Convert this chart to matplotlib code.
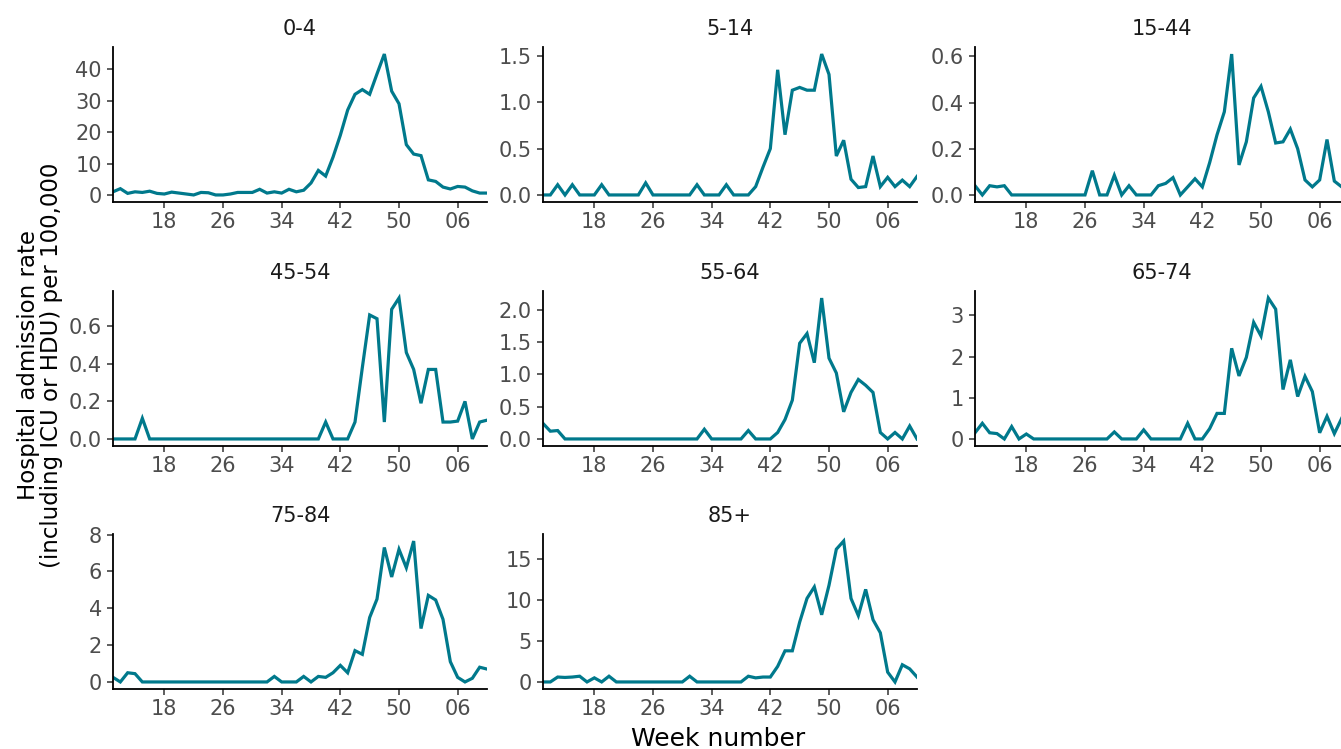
import matplotlib
matplotlib.use('Agg')
import matplotlib.pyplot as plt

# weeks 11..52 then 01..10 of the following year (plotted as 53..62)
weeks = list(range(11, 63))

groups = ['0-4', '5-14', '15-44', '45-54', '55-64', '65-74', '75-84', '85+']

rate_0_4 = [1.0, 2.0, 0.5, 1.0, 0.8, 1.2, 0.5, 0.3, 0.9, 0.6,
            0.3, 0.0, 0.8, 0.7, 0.0, 0.0, 0.3, 0.8, 0.8, 0.8,
            1.8, 0.6, 1.0, 0.6, 1.8, 1.0, 1.5, 3.8, 7.8, 6.0,
            12.0, 19.0, 27.0, 32.0, 33.5, 32.0, 38.5, 44.8, 33.0, 29.0,
            16.0, 13.0, 12.5, 4.8, 4.3, 2.5, 1.9, 2.7, 2.5, 1.3,
            0.6, 0.6]
rate_5_14 = [0, 0, 0.11, 0, 0.11, 0, 0, 0, 0.11, 0,
             0, 0, 0, 0, 0.13, 0, 0, 0, 0, 0,
             0, 0.11, 0, 0, 0, 0.11, 0, 0, 0, 0.09,
             0.3, 0.5, 1.35, 0.65, 1.13, 1.16, 1.13, 1.13, 1.52, 1.3,
             0.42, 0.59, 0.17, 0.08, 0.09, 0.42, 0.09, 0.19, 0.09, 0.16,
             0.09, 0.2]
rate_15_44 = [0.04, 0, 0.04, 0.035, 0.04, 0, 0, 0, 0, 0,
              0, 0, 0, 0, 0, 0, 0.105, 0, 0, 0.085,
              0, 0.04, 0, 0, 0, 0.04, 0.05, 0.075, 0, 0.035,
              0.07, 0.035, 0.14, 0.26, 0.36, 0.61, 0.13, 0.23, 0.42, 0.47,
              0.36, 0.225, 0.23, 0.285, 0.2, 0.065, 0.035, 0.065, 0.24, 0.06,
              0.035, 0.05]
rate_45_54 = [0, 0, 0, 0, 0.11, 0, 0, 0, 0, 0,
              0, 0, 0, 0, 0, 0, 0, 0, 0, 0,
              0, 0, 0, 0, 0, 0, 0, 0, 0, 0.09,
              0, 0, 0, 0.09, 0.38, 0.66, 0.64, 0.09, 0.69, 0.75,
              0.46, 0.37, 0.19, 0.37, 0.37, 0.09, 0.09, 0.095, 0.2, 0,
              0.09, 0.1]
rate_55_64 = [0.24, 0.12, 0.13, 0, 0, 0, 0, 0, 0, 0,
              0, 0, 0, 0, 0, 0, 0, 0, 0, 0,
              0, 0, 0.15, 0, 0, 0, 0, 0, 0.13, 0,
              0, 0, 0.1, 0.3, 0.6, 1.48, 1.63, 1.18, 2.18, 1.25,
              1.02, 0.42, 0.72, 0.92, 0.83, 0.72, 0.1, 0, 0.1, 0,
              0.2, 0]
rate_65_74 = [0.15, 0.38, 0.15, 0.13, 0, 0.3, 0, 0.12, 0, 0,
              0, 0, 0, 0, 0, 0, 0, 0, 0, 0.17,
              0, 0, 0, 0.22, 0, 0, 0, 0, 0, 0.38,
              0, 0, 0.25, 0.62, 0.62, 2.2, 1.53, 1.98, 2.83, 2.5,
              3.42, 3.15, 1.2, 1.92, 1.03, 1.52, 1.15, 0.15, 0.55, 0.13,
              0.5, 0.3]
rate_75_84 = [0.25, 0, 0.5, 0.45, 0, 0, 0, 0, 0, 0,
              0, 0, 0, 0, 0, 0, 0, 0, 0, 0,
              0, 0, 0.3, 0, 0, 0, 0.3, 0, 0.3, 0.25,
              0.5, 0.9, 0.5, 1.7, 1.5, 3.5, 4.5, 7.3, 5.7, 7.2,
              6.2, 7.65, 2.9, 4.7, 4.45, 3.4, 1.1, 0.25, 0, 0.2,
              0.8, 0.7]
rate_85 = [0, 0, 0.6, 0.55, 0.6, 0.7, 0, 0.5, 0, 0.7,
           0, 0, 0, 0, 0, 0, 0, 0, 0, 0,
           0.7, 0, 0, 0, 0, 0, 0, 0, 0.7, 0.5,
           0.6, 0.6, 1.9, 3.8, 3.8, 7.3, 10.2, 11.6, 8.2, 11.8,
           16.2, 17.2, 10.2, 8.1, 11.3, 7.6, 6.0, 1.2, 0, 2.1,
           1.6, 0.6]

series = [rate_0_4, rate_5_14, rate_15_44, rate_45_54,
          rate_55_64, rate_65_74, rate_75_84, rate_85]

yticks = [[0, 10, 20, 30, 40],
          [0.0, 0.5, 1.0, 1.5],
          [0.0, 0.2, 0.4, 0.6],
          [0.0, 0.2, 0.4, 0.6],
          [0.0, 0.5, 1.0, 1.5, 2.0],
          [0, 1, 2, 3],
          [0, 2, 4, 6, 8],
          [0, 5, 10, 15]]
ytick_fmt = ['{:.0f}', '{:.1f}', '{:.1f}', '{:.1f}', '{:.1f}', '{:.0f}', '{:.0f}', '{:.0f}']

xticks = [18, 26, 34, 42, 50, 58]
xtick_labels = ['18', '26', '34', '42', '50', '06']

W, H = 1341, 749
line_col = '#00798C'

fig = plt.figure(figsize=(W / 100, H / 100), dpi=100)

col_left = [113, 543, 975]
row_bottom = [202, 446, 689]
pw, ph = 374, 155

for i, (name, vals) in enumerate(zip(groups, series)):
    r, c = divmod(i, 3)
    ax = fig.add_axes([col_left[c] / W, 1 - row_bottom[r] / H, pw / W, ph / H])
    ax.plot(weeks, vals, color=line_col, lw=2.3, solid_joinstyle='miter')
    ax.set_xlim(weeks[0], weeks[-1])
    lo, hi = min(vals), max(vals)
    pad = 0.05 * (hi - lo)
    ax.set_ylim(lo - pad, hi + pad)
    ax.set_xticks(xticks)
    ax.set_xticklabels(xtick_labels)
    ax.set_yticks(yticks[i])
    ax.set_yticklabels([ytick_fmt[i].format(v) for v in yticks[i]])
    for s in ['top', 'right']:
        ax.spines[s].set_visible(False)
    for s in ['left', 'bottom']:
        ax.spines[s].set_linewidth(1.3)
        ax.spines[s].set_color('black')
    ax.tick_params(axis='both', length=4.5, width=1.1, color='#333333',
                   labelsize=15, labelcolor='#4D4D4D')
    ax.tick_params(axis='x', pad=3)
    ax.tick_params(axis='y', pad=3.5)
    ax.set_title(name, fontsize=15, color='#1A1A1A', pad=8.5)

fig.text(40 / W, 1 - 365 / H,
         'Hospital admission rate\n(including ICU or HDU) per 100,000',
         rotation=90, ha='center', va='center', multialignment='center',
         fontsize=16.5, color='black', linespacing=1.05)
fig.text(718 / W, 1 - 746 / H, 'Week number', ha='center', va='baseline',
         fontsize=18, color='black')

fig.savefig('out.png', dpi=100)
